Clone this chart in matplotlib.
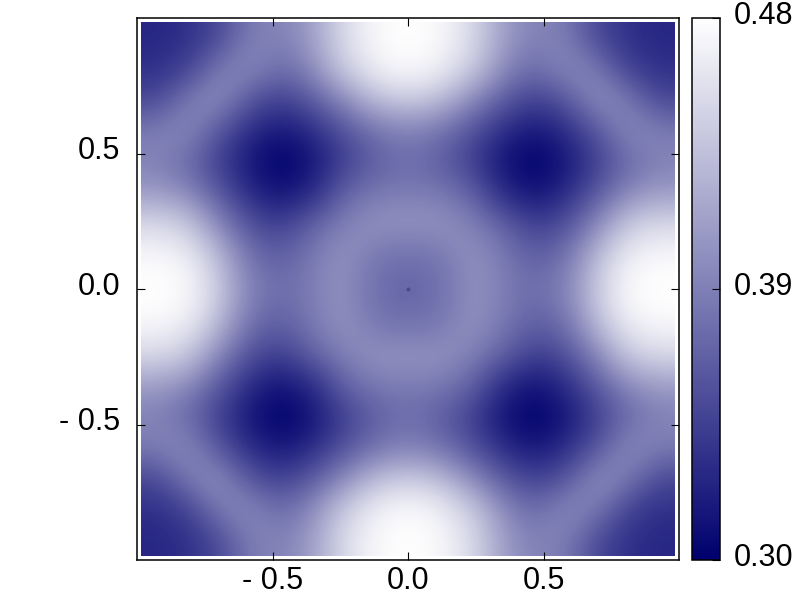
import numpy as np
import matplotlib
matplotlib.use('Agg')
import matplotlib.pyplot as plt
from matplotlib.colors import LinearSegmentedColormap
from matplotlib.transforms import ScaledTranslation

plt.rcParams['font.family'] = ['Liberation Sans', 'DejaVu Sans']

# one quadrant of the map, centre is top left, picture is mirrored on both axes
quadrant = [
    [.372, .376, .386, .400, .394, .382, .378, .385, .410, .445, .468, .478, .479],
    [.376, .378, .387, .400, .394, .380, .373, .380, .405, .440, .465, .475, .477],
    [.386, .387, .395, .398, .388, .372, .362, .368, .392, .425, .452, .465, .468],
    [.400, .400, .398, .390, .375, .358, .346, .352, .372, .402, .432, .448, .452],
    [.394, .394, .388, .375, .352, .335, .326, .334, .353, .378, .405, .420, .425],
    [.382, .380, .372, .358, .335, .316, .309, .318, .337, .358, .380, .395, .402],
    [.378, .373, .362, .346, .326, .309, .303, .312, .330, .350, .372, .385, .392],
    [.385, .380, .368, .352, .334, .318, .312, .320, .338, .358, .382, .392, .390],
    [.410, .405, .392, .372, .353, .337, .330, .338, .356, .378, .392, .385, .372],
    [.445, .440, .425, .402, .378, .358, .350, .358, .378, .395, .385, .365, .350],
    [.468, .465, .452, .432, .405, .380, .372, .382, .392, .385, .362, .345, .338],
    [.478, .475, .465, .448, .420, .395, .385, .392, .385, .365, .345, .335, .330],
    [.479, .477, .468, .452, .425, .402, .392, .390, .372, .350, .338, .330, .328],
]
ticks = [-0.5, 0.0, 0.5]
tick_labels = ['- 0.5', '0.0', '0.5']
cbar_ticks = [0.30, 0.39, 0.48]
cbar_labels = ['0.30', '0.39', '0.48']

q = np.array(quadrant)
top = np.hstack([q[:, :0:-1], q])
grid = np.vstack([top[:0:-1], top])

cmap = LinearSegmentedColormap.from_list('navywhite', ['#00006e', '#ffffff'])

fig = plt.figure(figsize=(8, 6), dpi=100)
ax = fig.add_axes([137 / 800, 1 - 560 / 600, 542 / 800, 542 / 600])
im = ax.imshow(grid, extent=[-0.985, 0.985, -0.985, 0.985], origin='lower',
               cmap=cmap, vmin=0.30, vmax=0.48, interpolation='bicubic', aspect='auto')
ax.plot([0], [0], 'o', ms=3, color='#4a4a90', mew=0)
ax.set_xlim(-1, 1)
ax.set_ylim(-1, 1)
ax.set_xticks(ticks)
ax.set_xticklabels(tick_labels)
ax.set_yticks(ticks)
ax.set_yticklabels(tick_labels)
ax.tick_params(direction='in', length=6, width=0.8, top=True, right=True, labelsize=22)
ax.tick_params(axis='x', pad=4)
ax.tick_params(axis='y', pad=12)
for s in ax.spines.values():
    s.set_linewidth(1.1)

cax = fig.add_axes([692 / 800, 1 - 560 / 600, 28 / 800, 542 / 600])
cb = fig.colorbar(im, cax=cax)
cb.set_ticks(cbar_ticks)
cb.set_ticklabels(cbar_labels)
cax.tick_params(direction='in', length=6, width=0.8, labelsize=22, pad=10)
cb.outline.set_linewidth(1.1)

# labels sit a little above their ticks in the original
up = ScaledTranslation(0, 4 / 72, fig.dpi_scale_trans)
for lab in ax.get_yticklabels() + cax.get_yticklabels():
    lab.set_transform(lab.get_transform() + up)

fig.savefig('out.png', dpi=100)
